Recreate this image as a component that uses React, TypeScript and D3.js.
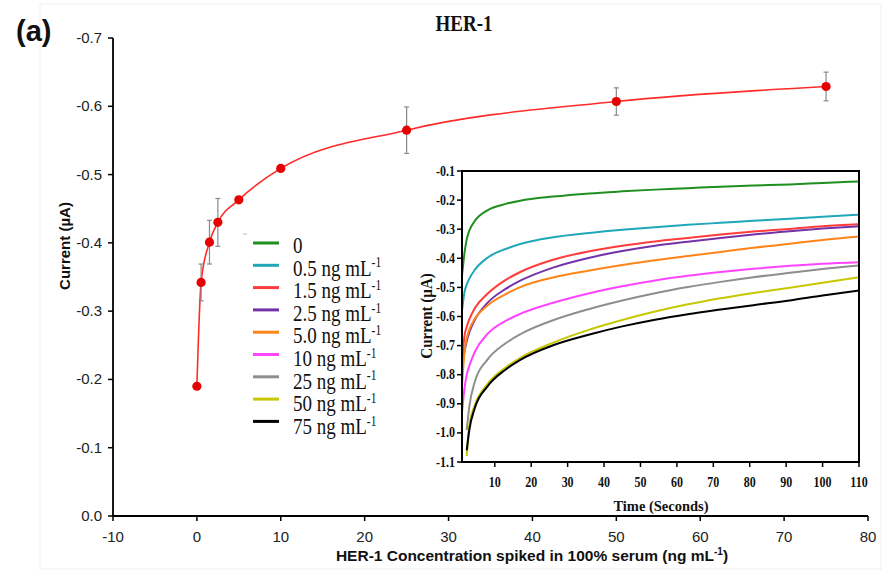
import React from "react";
import * as d3 from "d3";

// Calibration curve: HER-1 concentration vs. current
const concentrations = [0, 0.5, 1.5, 2.5, 5, 10, 25, 50, 75];
const currents = [-0.19, -0.342, -0.401, -0.43, -0.463, -0.509, -0.565, -0.607, -0.629];
const errors = [0, 0.027, 0.032, 0.035, 0, 0, 0.034, 0.02, 0.021];

const mainXTicks = [-10, 0, 10, 20, 30, 40, 50, 60, 70, 80];
const mainYTicks = [0, -0.1, -0.2, -0.3, -0.4, -0.5, -0.6, -0.7];

// Chronoamperometric traces (inset)
const times = [1, 1.7, 2.3, 3, 4.5, 8, 13, 17, 26, 36, 45, 54, 63, 72, 81, 91, 100, 110];
const trace0 = [-0.46, -0.38, -0.335, -0.305, -0.272, -0.235, -0.213, -0.202, -0.188, -0.177, -0.17, -0.164, -0.159, -0.154, -0.15, -0.146, -0.141, -0.136];
const trace05 = [-0.58, -0.515, -0.49, -0.47, -0.44, -0.398, -0.368, -0.351, -0.328, -0.313, -0.302, -0.293, -0.285, -0.278, -0.271, -0.264, -0.257, -0.25];
const trace15 = [-0.76, -0.665, -0.635, -0.61, -0.572, -0.522, -0.474, -0.447, -0.405, -0.376, -0.357, -0.342, -0.33, -0.318, -0.308, -0.299, -0.29, -0.283];
const trace25 = [-0.77, -0.72, -0.685, -0.655, -0.612, -0.553, -0.505, -0.477, -0.432, -0.398, -0.375, -0.357, -0.343, -0.33, -0.318, -0.307, -0.298, -0.29];
const trace50 = [-0.84, -0.72, -0.675, -0.645, -0.608, -0.562, -0.523, -0.499, -0.466, -0.442, -0.423, -0.407, -0.392, -0.378, -0.364, -0.35, -0.337, -0.325];
const trace10 = [-0.93, -0.845, -0.8, -0.77, -0.722, -0.66, -0.615, -0.591, -0.553, -0.52, -0.496, -0.476, -0.46, -0.447, -0.436, -0.426, -0.419, -0.414];
const trace25b = [null, null, -0.99, -0.91, -0.825, -0.748, -0.692, -0.661, -0.613, -0.574, -0.545, -0.52, -0.499, -0.481, -0.465, -0.45, -0.437, -0.425];
const trace50b = [null, null, -1.08, -0.975, -0.905, -0.832, -0.775, -0.742, -0.69, -0.645, -0.612, -0.583, -0.558, -0.537, -0.519, -0.501, -0.484, -0.465];
const trace75 = [null, null, -1.06, -0.99, -0.915, -0.84, -0.782, -0.749, -0.699, -0.662, -0.634, -0.611, -0.592, -0.576, -0.561, -0.545, -0.528, -0.511];

const traceLabels = ["0", "0.5", "1.5", "2.5", "5.0", "10", "25", "50", "75"];
const traceColors = ["#1f8f1f", "#20a8b8", "#ff3c3c", "#7432a8", "#ff8418", "#ff44ff", "#8e8e8e", "#c8c800", "#000000"];
const traces = [trace0, trace05, trace15, trace25, trace50, trace10, trace25b, trace50b, trace75];

const insetXTicks = [10, 20, 30, 40, 50, 60, 70, 80, 90, 100, 110];
const insetYTicks = [-0.1, -0.2, -0.3, -0.4, -0.5, -0.6, -0.7, -0.8, -0.9, -1.0, -1.1];

const SANS = "'Liberation Sans', Arial, Helvetica, sans-serif";
const SERIF = "'Liberation Serif', 'Times New Roman', serif";

export default function App() {
  const x = d3.scaleLinear().domain([-10, 80]).range([113, 868]);
  const y = d3.scaleLinear().domain([0, -0.7]).range([516, 38]);

  const fitLine = d3
    .line<number>()
    .x((_, i) => x(concentrations[i]))
    .y((d) => y(d))
    .curve(d3.curveMonotoneX);

  const ix = d3.scaleLinear().domain([1, 110]).range([462, 859]);
  const iy = d3.scaleLinear().domain([-0.1, -1.1]).range([171, 462]);

  const traceLine = d3
    .line<number | null>()
    .defined((d) => d !== null)
    .x((_, i) => ix(times[i]))
    .y((d) => iy(d as number))
    .curve(d3.curveMonotoneX);

  const [x0, x1] = x.range();
  const [y0, y1] = y.range();

  return (
    <svg
      width={882}
      height={570}
      style={{ position: "absolute", left: 0, top: 0, background: "#fff" }}
    >
      <rect x={40} y={4} width={841} height={565} fill="none" stroke="#f0f0f0" />

      {/* panel label and title */}
      <text x={16} y={41} fontFamily={SANS} fontWeight="bold" fontSize={29} fill="#111">
        (a)
      </text>
      <text
        transform="translate(464,31) scale(1,1.2)"
        textAnchor="middle"
        fontFamily={SERIF}
        fontWeight="bold"
        fontSize={19}
        fill="#111"
      >
        HER-1
      </text>

      {/* main axes */}
      <line x1={x0} x2={x1} y1={y0} y2={y0} stroke="#000" strokeWidth={1.8} />
      <line x1={x0} x2={x0} y1={y0} y2={y1} stroke="#000" strokeWidth={1.8} />
      {mainXTicks.map((t) => (
        <g key={"mx" + t}>
          <line x1={x(t)} x2={x(t)} y1={y0} y2={y0 + 5} stroke="#000" strokeWidth={1.5} />
          <text x={x(t)} y={y0 + 26} textAnchor="middle" fontFamily={SANS} fontSize={15} fill="#222">
            {String(t)}
          </text>
        </g>
      ))}
      {mainYTicks.map((t) => (
        <g key={"my" + t}>
          <line x1={x0 - 5} x2={x0} y1={y(t)} y2={y(t)} stroke="#000" strokeWidth={1.5} />
          <text x={x0 - 11} y={y(t) + 5} textAnchor="end" fontFamily={SANS} fontSize={15} fill="#222">
            {t.toFixed(1)}
          </text>
        </g>
      ))}
      <text
        transform="translate(70,246) rotate(-90)"
        textAnchor="middle"
        fontFamily={SANS}
        fontWeight="bold"
        fontSize={15}
        fill="#111"
      >
        Current (µA)
      </text>
      <text x={532} y={561} textAnchor="middle" fontFamily={SANS} fontWeight="bold" fontSize={15.5} fill="#111">
        HER-1 Concentration spiked in 100% serum (ng mL
        <tspan dy={-6} fontSize={10}>-1</tspan>
        <tspan dy={6}>)</tspan>
      </text>

      {/* fitted calibration curve */}
      <path d={fitLine(currents) || ""} fill="none" stroke="#ff2a2a" strokeWidth={1.6} />
      {concentrations.map((c, i) =>
        errors[i] > 0 ? (
          <g key={"e" + i} stroke="#8a8a8a" strokeWidth={1.2}>
            <line x1={x(c)} x2={x(c)} y1={y(currents[i] - errors[i])} y2={y(currents[i] + errors[i])} />
            <line x1={x(c) - 2.5} x2={x(c) + 2.5} y1={y(currents[i] - errors[i])} y2={y(currents[i] - errors[i])} />
            <line x1={x(c) - 2.5} x2={x(c) + 2.5} y1={y(currents[i] + errors[i])} y2={y(currents[i] + errors[i])} />
          </g>
        ) : null
      )}
      {concentrations.map((c, i) => (
        <circle key={"p" + i} cx={x(c)} cy={y(currents[i])} r={4.6} fill="#e60000" />
      ))}

      {/* legend */}
      <line x1={243} x2={247} y1={234} y2={234} stroke="#bbb" strokeWidth={1} />
      {traceLabels.map((lab, i) => (
        <g key={"lg" + i}>
          <line x1={253} x2={279} y1={243 + i * 22.3} y2={243 + i * 22.3} stroke={traceColors[i]} strokeWidth={3} />
          <text
            transform={`translate(293,${253 + i * 22.6}) scale(1,1.18)`}
            fontFamily={SERIF}
            fontSize={19}
            fill="#111"
          >
            {lab === "0" ? (
              "0"
            ) : (
              <>
                {lab} ng mL
                <tspan dy={-7} fontSize={11.5}>-1</tspan>
              </>
            )}
          </text>
        </g>
      ))}

      {/* inset: current-time traces */}
      <rect x={462} y={171} width={397} height={291} fill="#fff" stroke="none" />
      {traces.map((tr, i) => (
        <path key={"tr" + i} d={traceLine(tr) || ""} fill="none" stroke={traceColors[i]} strokeWidth={2} />
      ))}
      <rect x={462} y={171} width={397} height={291} fill="none" stroke="#000" strokeWidth={2} />
      {insetYTicks.map((t) => (
        <g key={"iy" + t}>
          <line x1={457} x2={462} y1={iy(t)} y2={iy(t)} stroke="#000" strokeWidth={1.5} />
          <text
            transform={`translate(455,${iy(t) + 4.5}) scale(1,1.3)`}
            textAnchor="end"
            fontFamily={SERIF}
            fontWeight="bold"
            fontSize={12}
            fill="#111"
          >
            {t.toFixed(1)}
          </text>
        </g>
      ))}
      {insetXTicks.map((t) => (
        <g key={"ix" + t}>
          <line x1={ix(t)} x2={ix(t)} y1={462} y2={467} stroke="#000" strokeWidth={1.5} />
          <text
            transform={`translate(${ix(t)},487) scale(1,1.3)`}
            textAnchor="middle"
            fontFamily={SERIF}
            fontWeight="bold"
            fontSize={12}
            fill="#111"
          >
            {String(t)}
          </text>
        </g>
      ))}
      <text x={661} y={511} textAnchor="middle" fontFamily={SERIF} fontWeight="bold" fontSize={14.5} fill="#111">
        Time (Seconds)
      </text>
      <text
        transform="translate(432,316) rotate(-90) scale(1,1.15)"
        textAnchor="middle"
        fontFamily={SERIF}
        fontWeight="bold"
        fontSize={15}
        fill="#111"
      >
        Current (µA)
      </text>
    </svg>
  );
}
